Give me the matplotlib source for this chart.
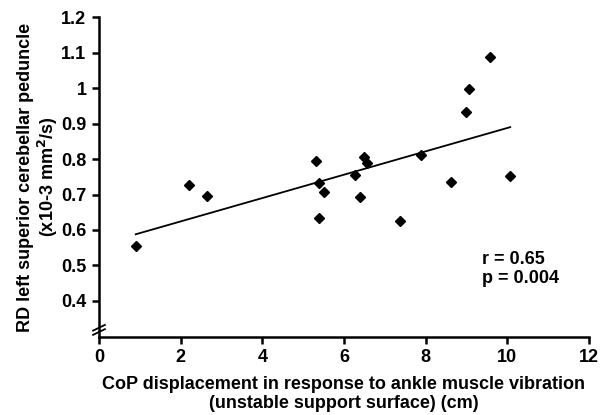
import numpy as np
import matplotlib.pyplot as plt
from matplotlib.ticker import FuncFormatter

plt.rcParams['font.family'] = ['Liberation Sans', 'DejaVu Sans']
plt.rcParams['font.weight'] = 'bold'

# CoP displacement (cm) vs RD (x10-3 mm2/s)
cop = [0.90, 2.20, 2.65, 5.32, 5.39, 5.40, 5.51, 6.28, 6.38, 6.49, 6.56,
       7.37, 7.88, 8.61, 8.98, 9.06, 9.57, 10.07]
rd = [0.556, 0.727, 0.695, 0.794, 0.732, 0.633, 0.706, 0.755, 0.693, 0.805,
      0.788, 0.626, 0.811, 0.736, 0.933, 0.999, 1.087, 0.752]

x_ticks = [0, 2, 4, 6, 8, 10, 12]
y_ticks = [0.4, 0.5, 0.6, 0.7, 0.8, 0.9, 1.0, 1.1, 1.2]

fig = plt.figure(figsize=(6.11, 4.15), dpi=100)
ax = fig.add_axes([0.162, 0.188, 0.802, 0.77])

ax.plot(cop, rd, 'D', color='black', markersize=4.8)

# least squares trend line
k, b = np.polyfit(cop, rd, 1)
xl = np.array([min(cop), max(cop)])
ax.plot(xl, k * xl + b, color='black', lw=1.3)

ax.set_xlim(0, 12)
ax.set_ylim(0.298, 1.2)
ax.set_xticks(x_ticks)
ax.set_yticks(y_ticks)
ax.yaxis.set_major_formatter(FuncFormatter(lambda v, p: '%g' % v))

for s in ['top', 'right']:
    ax.spines[s].set_visible(False)
for s in ['left', 'bottom']:
    ax.spines[s].set_linewidth(1.8)
ax.tick_params(width=1.8, length=5, labelsize=13, direction='out', pad=4)
for lab in ax.get_xticklabels() + ax.get_yticklabels():
    lab.set_fontweight('bold')

# axis break marks
for dy in [-0.006, 0.006]:
    ax.plot([-0.012, 0.012], [0.318 + dy - 0.008, 0.318 + dy + 0.008],
            color='black', lw=1.3, clip_on=False,
            transform=ax.get_yaxis_transform())

ax.set_xlabel('CoP displacement in response to ankle muscle vibration\n(unstable support surface) (cm)',
              fontsize=13, fontweight='bold', labelpad=7, linespacing=1.12)
ax.set_ylabel('RD left superior cerebellar peduncle\n(x10-3 mm$^\\mathbf{2}$/s)',
              fontsize=13, fontweight='bold', labelpad=1, linespacing=1.12)

ax.text(9.37, 0.54, 'r = 0.65\np = 0.004', fontsize=13, fontweight='bold',
        va='top', ha='left', linespacing=1.1)

fig.savefig('out.png', dpi=100)
